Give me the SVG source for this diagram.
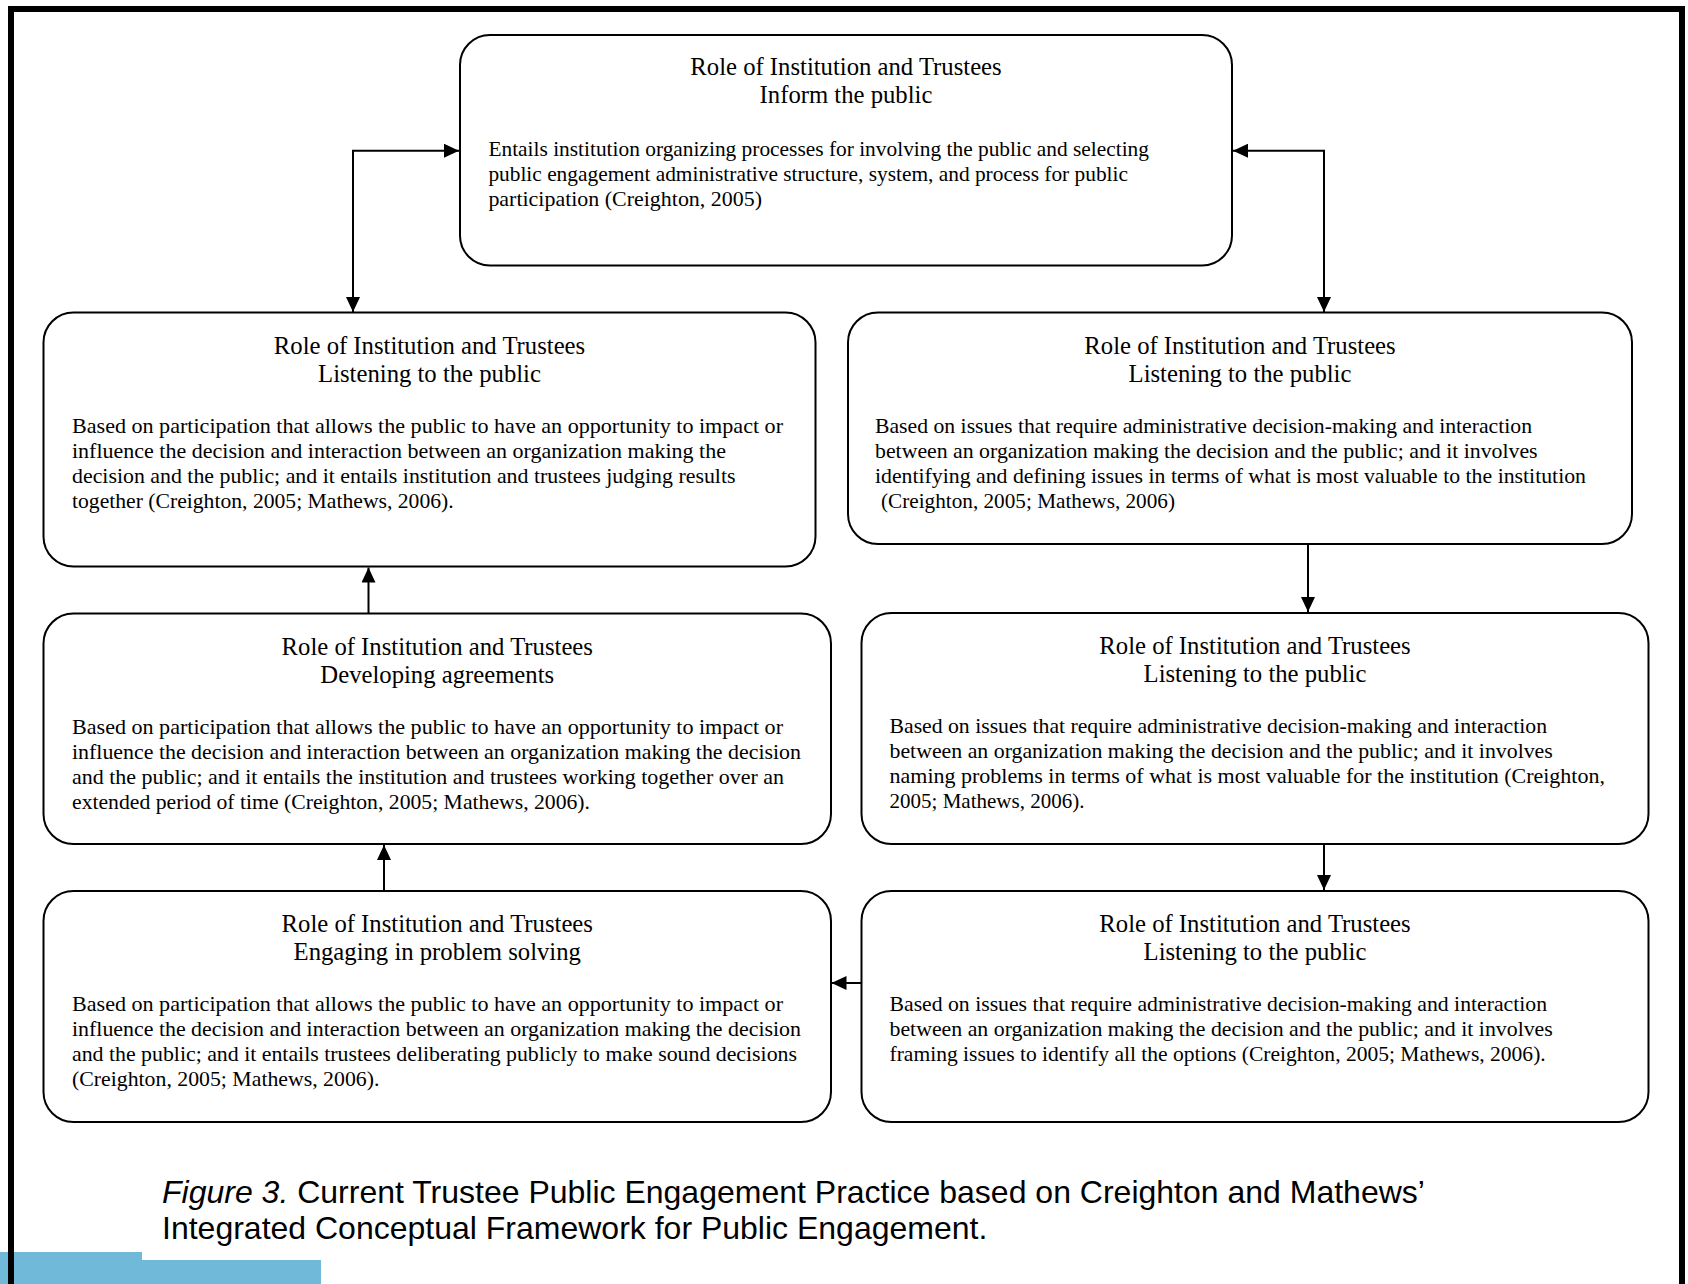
<svg xmlns="http://www.w3.org/2000/svg" width="1688" height="1284" viewBox="0 0 1688 1284">
  <style>
    .box { fill: #ffffff; stroke: #000000; stroke-width: 2; }
    .title { font-family: "Liberation Serif", "Times New Roman", serif; font-size: 24.7px; fill: #000; text-anchor: middle; }
    .body { font-family: "Liberation Serif", "Times New Roman", serif; font-size: 21.2px; fill: #000; }
    .conn { fill: none; stroke: #000000; stroke-width: 2; }
    .caption { font-family: "Liberation Sans", Arial, sans-serif; font-size: 32px; fill: #000; }
  </style>
  <defs>
    <marker id="arrow" viewBox="0 0 15 14" refX="15" refY="7" markerWidth="15" markerHeight="14" markerUnits="userSpaceOnUse" orient="auto-start-reverse">
      <path d="M0,0 L15,7 L0,14 Z" fill="#000000"/>
    </marker>
  </defs>

  <rect x="0" y="0" width="1688" height="1284" fill="#ffffff"/>

  <!-- page corner tabs -->
  <rect x="0" y="1252" width="142" height="32" fill="#71B9D9"/>
  <rect x="142" y="1260" width="179" height="24" fill="#71B9D9"/>

  <!-- frame -->
  <path d="M11,1290 V9 H1682 V1290" fill="none" stroke="#000000" stroke-width="6"/>

  <!-- connectors -->
  <g id="connectors">
    <path class="conn" d="M353,312 V150.7 H459" marker-start="url(#arrow)" marker-end="url(#arrow)"/>
    <path class="conn" d="M1324,312 V150.7 H1233" marker-start="url(#arrow)" marker-end="url(#arrow)"/>
    <path class="conn" d="M1308,544 V612" marker-end="url(#arrow)"/>
    <path class="conn" d="M1324,844 V890" marker-end="url(#arrow)"/>
    <path class="conn" d="M861.5,983 H831.5" marker-end="url(#arrow)"/>
    <path class="conn" d="M384,891 V845" marker-end="url(#arrow)"/>
    <path class="conn" d="M368.5,613.5 V567.5" marker-end="url(#arrow)"/>
  </g>

  <!-- Inform the public -->
  <g id="node-inform">
    <rect class="box" x="460" y="35" width="772" height="230.5" rx="30" ry="30"/>
    <text class="title" x="846" y="75">Role of Institution and Trustees</text>
    <text class="title" x="846" y="103">Inform the public</text>
    <text class="body" x="488.4" y="155.5" textLength="660.6" lengthAdjust="spacingAndGlyphs">Entails institution organizing processes for involving the public and selecting</text>
    <text class="body" x="488.4" y="180.5" textLength="639.6" lengthAdjust="spacingAndGlyphs">public engagement administrative structure, system, and process for public</text>
    <text class="body" x="488.4" y="205.5" textLength="273.6" lengthAdjust="spacingAndGlyphs">participation (Creighton, 2005)</text>
  </g>

  <!-- Listening to the public: judging results -->
  <g id="node-listening-judging">
    <rect class="box" x="43.5" y="312.5" width="772" height="254" rx="30" ry="30"/>
    <text class="title" x="429.5" y="353.5">Role of Institution and Trustees</text>
    <text class="title" x="429.5" y="381.5">Listening to the public</text>
    <text class="body" x="72" y="432.5" textLength="711" lengthAdjust="spacingAndGlyphs">Based on participation that allows the public to have an opportunity to impact or</text>
    <text class="body" x="72" y="457.5" textLength="654" lengthAdjust="spacingAndGlyphs">influence the decision and interaction between an organization making the</text>
    <text class="body" x="72" y="482.5" textLength="663.5" lengthAdjust="spacingAndGlyphs">decision and the public; and it entails institution and trustees judging results</text>
    <text class="body" x="72" y="507.5" textLength="381.7" lengthAdjust="spacingAndGlyphs">together (Creighton, 2005; Mathews, 2006).</text>
  </g>

  <!-- Listening to the public: defining issues -->
  <g id="node-listening-defining">
    <rect class="box" x="848" y="312.5" width="784" height="231.5" rx="30" ry="30"/>
    <text class="title" x="1240" y="353.5">Role of Institution and Trustees</text>
    <text class="title" x="1240" y="381.5">Listening to the public</text>
    <text class="body" x="875" y="432.5" textLength="657" lengthAdjust="spacingAndGlyphs">Based on issues that require administrative decision-making and interaction</text>
    <text class="body" x="875" y="457.5" textLength="662.6" lengthAdjust="spacingAndGlyphs">between an organization making the decision and the public; and it involves</text>
    <text class="body" x="875" y="482.5" textLength="711" lengthAdjust="spacingAndGlyphs">identifying and defining issues in terms of what is most valuable to the institution</text>
    <text class="body" x="881" y="507.5" textLength="294" lengthAdjust="spacingAndGlyphs">(Creighton, 2005; Mathews, 2006)</text>
  </g>

  <!-- Developing agreements -->
  <g id="node-developing">
    <rect class="box" x="43.5" y="613.5" width="787.5" height="230.5" rx="30" ry="30"/>
    <text class="title" x="437.25" y="654.5">Role of Institution and Trustees</text>
    <text class="title" x="437.25" y="682.5">Developing agreements</text>
    <text class="body" x="72" y="733.5" textLength="711" lengthAdjust="spacingAndGlyphs">Based on participation that allows the public to have an opportunity to impact or</text>
    <text class="body" x="72" y="758.5" textLength="729" lengthAdjust="spacingAndGlyphs">influence the decision and interaction between an organization making the decision</text>
    <text class="body" x="72" y="783.5" textLength="712" lengthAdjust="spacingAndGlyphs">and the public; and it entails the institution and trustees working together over an</text>
    <text class="body" x="72" y="808.5" textLength="518" lengthAdjust="spacingAndGlyphs">extended period of time (Creighton, 2005; Mathews, 2006).</text>
  </g>

  <!-- Listening to the public: naming problems -->
  <g id="node-listening-naming">
    <rect class="box" x="861.5" y="613" width="787" height="231" rx="30" ry="30"/>
    <text class="title" x="1255" y="654">Role of Institution and Trustees</text>
    <text class="title" x="1255" y="682">Listening to the public</text>
    <text class="body" x="889.5" y="733" textLength="657.5" lengthAdjust="spacingAndGlyphs">Based on issues that require administrative decision-making and interaction</text>
    <text class="body" x="889.5" y="758" textLength="663.3" lengthAdjust="spacingAndGlyphs">between an organization making the decision and the public; and it involves</text>
    <text class="body" x="889.5" y="783" textLength="715.5" lengthAdjust="spacingAndGlyphs">naming problems in terms of what is most valuable for the institution (Creighton,</text>
    <text class="body" x="889.5" y="808" textLength="195" lengthAdjust="spacingAndGlyphs">2005; Mathews, 2006).</text>
  </g>

  <!-- Engaging in problem solving -->
  <g id="node-engaging">
    <rect class="box" x="43.5" y="891" width="787.5" height="231" rx="30" ry="30"/>
    <text class="title" x="437.25" y="932">Role of Institution and Trustees</text>
    <text class="title" x="437.25" y="960">Engaging in problem solving</text>
    <text class="body" x="72" y="1011" textLength="711" lengthAdjust="spacingAndGlyphs">Based on participation that allows the public to have an opportunity to impact or</text>
    <text class="body" x="72" y="1036" textLength="729" lengthAdjust="spacingAndGlyphs">influence the decision and interaction between an organization making the decision</text>
    <text class="body" x="72" y="1061" textLength="725" lengthAdjust="spacingAndGlyphs">and the public; and it entails trustees deliberating publicly to make sound decisions</text>
    <text class="body" x="72" y="1086" textLength="307.4" lengthAdjust="spacingAndGlyphs">(Creighton, 2005; Mathews, 2006).</text>
  </g>

  <!-- Listening to the public: framing issues -->
  <g id="node-listening-framing">
    <rect class="box" x="861.5" y="891" width="787" height="231" rx="30" ry="30"/>
    <text class="title" x="1255" y="932">Role of Institution and Trustees</text>
    <text class="title" x="1255" y="960">Listening to the public</text>
    <text class="body" x="889.5" y="1011" textLength="657.5" lengthAdjust="spacingAndGlyphs">Based on issues that require administrative decision-making and interaction</text>
    <text class="body" x="889.5" y="1036" textLength="663.3" lengthAdjust="spacingAndGlyphs">between an organization making the decision and the public; and it involves</text>
    <text class="body" x="889.5" y="1061" textLength="656.2" lengthAdjust="spacingAndGlyphs">framing issues to identify all the options (Creighton, 2005; Mathews, 2006).</text>
  </g>

  <!-- caption -->
  <g id="caption">
    <text class="caption" x="162" y="1203"><tspan font-style="italic">Figure 3.</tspan> Current Trustee Public Engagement Practice based on Creighton and Mathews’</text>
    <text class="caption" x="162" y="1239">Integrated Conceptual Framework for Public Engagement.</text>
  </g>
</svg>
